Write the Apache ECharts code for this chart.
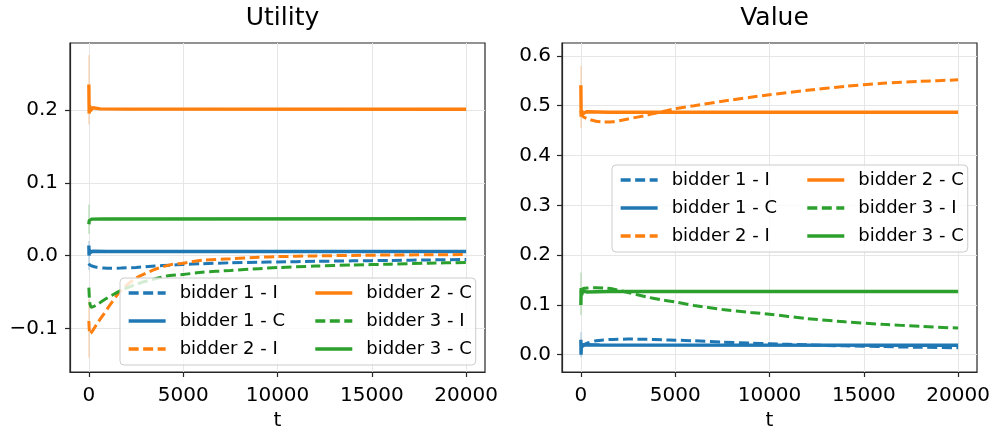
<!DOCTYPE html>
<html>
<head>
<meta charset="utf-8">
<script src="https://cdn.jsdelivr.net/npm/echarts@6/dist/echarts.min.js"></script>
<style>html,body{margin:0;padding:0;background:#fff;}#c{width:993px;height:431px;}</style>
</head>
<body>
<div id="c"></div>
<script>
// ---- data ----
const tDash = [0, 50, 130, 400, 800, 1200, 1700, 2500, 3500, 4300, 5000, 6000, 7500, 9000, 10000, 12000, 14000, 16000, 18000, 20000];

// Utility
const u_b1I = [-0.011, -0.013, -0.014, -0.016, -0.0172, -0.0175, -0.0172, -0.0163, -0.0145, -0.0132, -0.0122, -0.0112, -0.0100, -0.0092, -0.0088, -0.0080, -0.0073, -0.0067, -0.0060, -0.0055];
const u_b2I = [-0.090, -0.108, -0.106, -0.095, -0.080, -0.065, -0.048, -0.031, -0.019, -0.0128, -0.0105, -0.0065, -0.0045, -0.0025, -0.0015, -0.0005, 0.0002, 0.0007, 0.0010, 0.0014];
const u_b3I = [-0.044, -0.065, -0.071, -0.068, -0.061, -0.055, -0.048, -0.0395, -0.032, -0.0275, -0.026, -0.023, -0.0205, -0.018, -0.0165, -0.0145, -0.013, -0.0118, -0.0105, -0.0095];
const u_b1C = [[0, 0.0138], [10, 0.0], [30, 0.008], [80, 0.004], [200, 0.0058], [1000, 0.0055], [20000, 0.0055]];
const u_b2C = [[0, 0.235], [15, 0.195], [40, 0.206], [90, 0.199], [200, 0.203], [600, 0.2015], [2000, 0.2012], [20000, 0.201]];
const u_b3C = [[0, 0.043], [20, 0.048], [60, 0.046], [150, 0.050], [800, 0.0503], [20000, 0.0505]];
const u_bands = [
  { color: '#ff7f0e', data: [[0, 0.275], [0, 0.18]] },
  { color: '#2ca02c', data: [[0, 0.07], [0, 0.03]] },
  { color: '#ff7f0e', data: [[0, -0.06], [0, -0.14]] },
  { color: '#1f77b4', data: [[0, 0.02], [0, -0.02]] }
];

// Value
const v_b1I = [0.020, 0.018, 0.020, 0.024, 0.028, 0.0298, 0.0308, 0.0314, 0.0310, 0.0300, 0.0293, 0.0280, 0.0252, 0.0232, 0.0220, 0.0198, 0.0178, 0.0163, 0.0150, 0.0138];
const v_b2I = [0.490, 0.482, 0.478, 0.473, 0.469, 0.4675, 0.468, 0.4735, 0.481, 0.488, 0.494, 0.500, 0.509, 0.517, 0.522, 0.531, 0.539, 0.545, 0.549, 0.552];
const v_b3I = [0.125, 0.130, 0.133, 0.134, 0.1345, 0.134, 0.132, 0.125, 0.116, 0.110, 0.106, 0.099, 0.091, 0.085, 0.0815, 0.0725, 0.0660, 0.0610, 0.0570, 0.0535];
const v_b1C = [[0, 0.03], [10, 0.0], [30, 0.022], [80, 0.017], [200, 0.020], [1000, 0.0195], [20000, 0.019]];
const v_b2C = [[0, 0.541], [15, 0.478], [40, 0.490], [100, 0.484], [300, 0.488], [1500, 0.487], [20000, 0.487]];
const v_b3C = [[0, 0.100], [15, 0.134], [40, 0.120], [100, 0.128], [300, 0.126], [1500, 0.127], [20000, 0.127]];
const v_bands = [
  { color: '#ff7f0e', data: [[0, 0.58], [0, 0.455]] },
  { color: '#2ca02c', data: [[0, 0.165], [0, 0.08]] },
  { color: '#1f77b4', data: [[0, 0.045], [0, -0.005]] }
];

// ticks
const xTicks = [0, 5000, 10000, 15000, 20000];
const uTicks = [-0.1, 0, 0.1, 0.2];
const vTicks = [0, 0.1, 0.2, 0.3, 0.4, 0.5, 0.6];

const legendOrder = ['bidder 1 - I', 'bidder 2 - C', 'bidder 1 - C', 'bidder 3 - I', 'bidder 2 - I', 'bidder 3 - C'];
const col1 = ['bidder 1 - I', 'bidder 1 - C', 'bidder 2 - I'];

// ---- build ----
const C = { b1: '#1f77b4', b2: '#ff7f0e', b3: '#2ca02c' };
const FONT = 'DejaVu Sans';
const zip = (xs, ys) => xs.map((x, i) => [x, ys[i]]);

function line(name, data, idx, color, dashed) {
  return {
    name, type: 'line', xAxisIndex: idx, yAxisIndex: idx, data,
    symbol: 'none', showSymbol: false, animation: false, smooth: dashed ? 0.25 : false,
    lineStyle: { color, width: dashed ? 3 : 3.4, type: dashed ? [10, 4.5] : 'solid' },
    itemStyle: { color }, z: 3
  };
}
function band(b, idx) {
  return {
    type: 'line', xAxisIndex: idx, yAxisIndex: idx, data: b.data, symbol: 'none', silent: true,
    lineStyle: { color: b.color, width: 1.5, opacity: 0.25 }, z: 2
  };
}

const fmtY = v => v.toFixed(1).replace('-', '\u2212');
const fmtX = v => String(v);

function xAxis(idx) {
  return {
    gridIndex: idx, type: 'value', min: -1000, max: 21000,
    axisLine: { show: true, onZero: false, lineStyle: { color: '#262626', width: 1.2 } },
    axisTick: { show: true, length: 5, customValues: xTicks, lineStyle: { color: '#262626', width: 1.2 } },
    axisLabel: { customValues: xTicks, fontSize: 20, margin: 14, color: '#000', fontFamily: FONT, formatter: fmtX },
    splitLine: { show: true, lineStyle: { color: '#e6e6e6', width: 1 } },
    name: 't', nameLocation: 'middle', nameGap: 39,
    nameTextStyle: { fontSize: 20, color: '#000', fontFamily: FONT }
  };
}
function yAxis(idx, min, max, ticks, margin) {
  return {
    gridIndex: idx, type: 'value', min, max,
    axisLine: { show: true, onZero: false, lineStyle: { color: '#262626', width: 1.2 } },
    axisTick: { show: true, length: 5, customValues: ticks, lineStyle: { color: '#262626', width: 1.2 } },
    axisLabel: { customValues: ticks, fontSize: 20, margin, color: '#000', fontFamily: FONT, formatter: fmtY },
    splitLine: { show: true, lineStyle: { color: '#e6e6e6', width: 1 } }
  };
}
function legend(left, top) {
  return {
    data: legendOrder, left, top, orient: 'horizontal', width: 372,
    itemWidth: 37, itemHeight: 14, itemGap: 8,
    padding: [5, 4, 6, 7],
    backgroundColor: 'rgba(255,255,255,0.8)', borderColor: '#cccccc', borderWidth: 1, borderRadius: 4,
    itemStyle: { color: 'rgba(0,0,0,0)', borderWidth: 0, opacity: 0 },
    lineStyle: { width: 3.3 },
    formatter: n => (col1.includes(n) ? '{a|' : '{b|') + n + '}',
    textStyle: {
      fontSize: 18, color: '#000', fontFamily: FONT, lineHeight: 20,
      rich: {
        a: { fontSize: 18, width: 126, height: 20, padding: [0, 0, 0, 9], lineHeight: 20, fontFamily: FONT, color: '#000' },
        b: { fontSize: 18, width: 100, height: 20, padding: [0, 0, 0, 9], lineHeight: 20, fontFamily: FONT, color: '#000' }
      }
    },
    selectedMode: false
  };
}

const series = [
  line('bidder 1 - I', zip(tDash, u_b1I), 0, C.b1, true),
  line('bidder 1 - C', u_b1C, 0, C.b1, false),
  line('bidder 2 - I', zip(tDash, u_b2I), 0, C.b2, true),
  line('bidder 2 - C', u_b2C, 0, C.b2, false),
  line('bidder 3 - I', zip(tDash, u_b3I), 0, C.b3, true),
  line('bidder 3 - C', u_b3C, 0, C.b3, false),
  line('bidder 1 - I', zip(tDash, v_b1I), 1, C.b1, true),
  line('bidder 1 - C', v_b1C, 1, C.b1, false),
  line('bidder 2 - I', zip(tDash, v_b2I), 1, C.b2, true),
  line('bidder 2 - C', v_b2C, 1, C.b2, false),
  line('bidder 3 - I', zip(tDash, v_b3I), 1, C.b3, true),
  line('bidder 3 - C', v_b3C, 1, C.b3, false)
].concat(u_bands.map(b => band(b, 0)), v_bands.map(b => band(b, 1)));

const option = {
  animation: false,
  backgroundColor: '#fff',
  textStyle: { fontFamily: FONT },
  title: [
    { text: 'Utility', left: 277.5, top: 1, textAlign: 'center', textStyle: { fontSize: 25, fontWeight: 'normal', color: '#000', fontFamily: FONT } },
    { text: 'Value', left: 769.5, top: 1, textAlign: 'center', textStyle: { fontSize: 25, fontWeight: 'normal', color: '#000', fontFamily: FONT } }
  ],
  grid: [
    { left: 70, top: 43, width: 415, height: 329, show: true, borderColor: '#262626', borderWidth: 1.2, backgroundColor: 'transparent', outerBoundsMode: 'none' },
    { left: 562, top: 43, width: 415, height: 329, show: true, borderColor: '#262626', borderWidth: 1.2, backgroundColor: 'transparent', outerBoundsMode: 'none' }
  ],
  xAxis: [xAxis(0), xAxis(1)],
  yAxis: [yAxis(0, -0.16, 0.292, uTicks, 12), yAxis(1, -0.0347, 0.626, vTicks, 11)],
  legend: [legend(120, 278), legend(612, 165)],
  series
};

const chart = echarts.init(document.getElementById('c'), null, { renderer: 'canvas' });
chart.setOption(option);
</script>
</body>
</html>
